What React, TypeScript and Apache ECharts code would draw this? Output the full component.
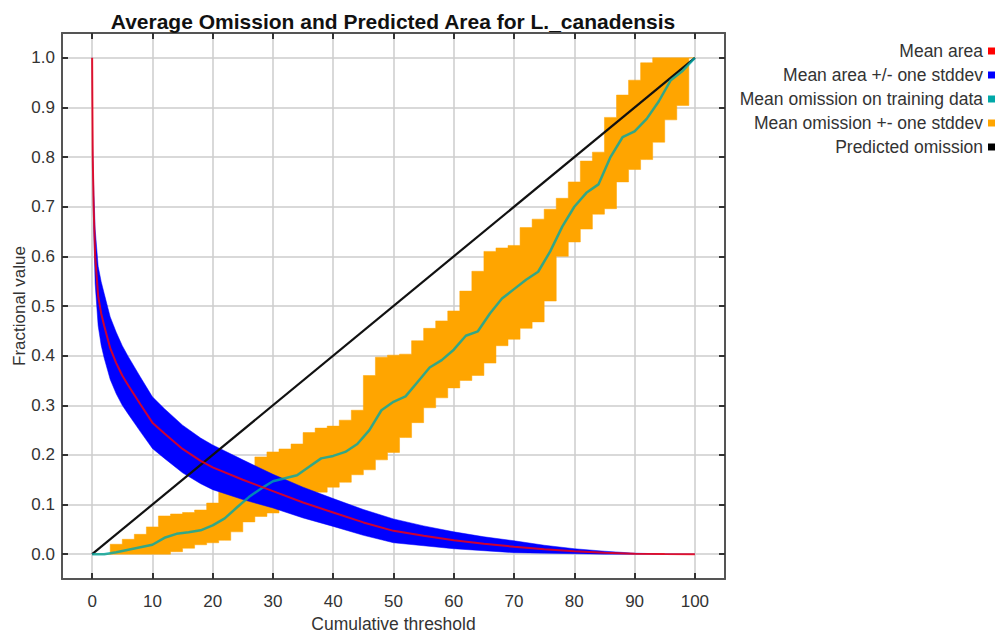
import React, { useEffect, useRef } from 'react';
import * as echarts from 'echarts';

const titleText = 'Average Omission and Predicted Area for L._canadensis';
const xName = 'Cumulative threshold';
const yName = 'Fractional value';

const xTicks = [0, 10, 20, 30, 40, 50, 60, 70, 80, 90, 100];
const yTicks = [0.0, 0.1, 0.2, 0.3, 0.4, 0.5, 0.6, 0.7, 0.8, 0.9, 1.0];

const legendNames = [
  'Mean area',
  'Mean area +/- one stddev',
  'Mean omission on training data',
  'Mean omission +- one stddev',
  'Predicted omission',
];

// Mean fractional predicted area
const areaX = [0, 0.1, 0.25, 0.5, 1, 1.5, 2, 3, 4, 5, 6, 8, 10, 12, 15, 18, 20, 25, 30, 35, 40, 45, 50, 55, 60, 65, 70, 75, 80, 85, 90, 95, 100];
const areaMean = [1.0, 0.8, 0.7, 0.6, 0.52, 0.485, 0.46, 0.415, 0.385, 0.36, 0.34, 0.302, 0.265, 0.243, 0.212, 0.188, 0.175, 0.15, 0.127, 0.104, 0.084, 0.064, 0.047, 0.037, 0.028, 0.021, 0.015, 0.01, 0.006, 0.003, 0.001, 0.0003, 0];
const areaStd = [0, 0.025, 0.045, 0.055, 0.06, 0.064, 0.065, 0.063, 0.062, 0.06, 0.058, 0.055, 0.052, 0.05, 0.048, 0.046, 0.045, 0.04, 0.034, 0.031, 0.028, 0.026, 0.024, 0.02, 0.017, 0.014, 0.012, 0.008, 0.005, 0.003, 0.001, 0.0003, 0];

// Omission on training data
const omX = [0, 2, 4, 6, 8, 10, 12, 14, 16, 18, 20, 22, 24, 26, 28, 30, 32, 34, 36, 38, 40, 42, 44, 46, 48, 50, 52, 54, 56, 58, 60, 62, 64, 66, 68, 70, 72, 74, 76, 78, 80, 82, 84, 86, 88, 90, 92, 94, 96, 98, 100];
const omMean = [0, 0, 0.004, 0.009, 0.014, 0.019, 0.033, 0.041, 0.044, 0.048, 0.058, 0.072, 0.094, 0.115, 0.132, 0.147, 0.153, 0.159, 0.176, 0.193, 0.198, 0.206, 0.222, 0.25, 0.29, 0.307, 0.318, 0.347, 0.376, 0.391, 0.412, 0.44, 0.449, 0.485, 0.515, 0.534, 0.553, 0.569, 0.61, 0.66, 0.7, 0.728, 0.745, 0.8, 0.84, 0.852, 0.877, 0.912, 0.955, 0.974, 1.0];
const omUpper = [0, 0, 0.02, 0.03, 0.04, 0.055, 0.077, 0.081, 0.084, 0.089, 0.103, 0.14, 0.158, 0.178, 0.196, 0.206, 0.212, 0.222, 0.245, 0.254, 0.258, 0.27, 0.29, 0.36, 0.397, 0.401, 0.403, 0.43, 0.455, 0.47, 0.49, 0.53, 0.57, 0.61, 0.617, 0.622, 0.658, 0.675, 0.695, 0.717, 0.75, 0.792, 0.81, 0.88, 0.925, 0.955, 0.99, 1.0, 1.0, 1.0, 1.0];
const omLower = [0, 0, 0, 0, 0, 0, 0, 0.005, 0.012, 0.019, 0.023, 0.028, 0.045, 0.065, 0.076, 0.083, 0.09, 0.1, 0.11, 0.125, 0.135, 0.145, 0.16, 0.17, 0.19, 0.205, 0.235, 0.265, 0.295, 0.315, 0.335, 0.35, 0.36, 0.385, 0.42, 0.433, 0.455, 0.468, 0.51, 0.6, 0.629, 0.655, 0.685, 0.696, 0.75, 0.775, 0.795, 0.83, 0.875, 0.904, 1.0];

const predX = [0, 100];
const predY = [0, 1];

const FONT = '"Liberation Sans", Arial, sans-serif';
const TXT = '#333333';

// Band polygon (upper edge forward, lower edge backward) in data space,
// optionally with "middle" steps, mapped through the axes with api.coord.
function bandRenderer(xs: number[], lows: number[], highs: number[], fill: string, stepped: boolean) {
  return (params: any, api: any) => {
    if (params.dataIndex !== 0) return null;
    const edge = (ys: number[]) => {
      const pts: number[][] = [];
      for (let i = 0; i < xs.length; i++) {
        if (stepped && i > 0) {
          const mid = (xs[i - 1] + xs[i]) / 2;
          pts.push([mid, ys[i - 1]]);
          pts.push([mid, ys[i]]);
        }
        pts.push([xs[i], ys[i]]);
      }
      return pts;
    };
    const top = edge(highs);
    const bottom = edge(lows).reverse();
    const points = top.concat(bottom).map((p) => api.coord(p));
    return {
      type: 'polygon',
      shape: { points },
      style: { fill, stroke: fill, lineWidth: 0.5 },
      silent: true,
    };
  };
}

function buildOption() {
  const areaLow = areaMean.map((m, i) => Math.max(0, m - areaStd[i]));
  const areaHigh = areaMean.map((m, i) => Math.min(1, m + areaStd[i]));
  const pair = (xs: number[], ys: number[]) => xs.map((x, i) => [x, ys[i]]);

  const axisLine = { show: true, onZero: false, lineStyle: { color: '#555555', width: 2 } };
  const tickIn = { show: true, inside: true, length: 6, lineStyle: { color: '#333333', width: 2 } };

  return {
    animation: false,
    backgroundColor: '#ffffff',
    title: {
      text: titleText,
      left: 388,
      top: 6,
      textAlign: 'center',
      textStyle: { fontFamily: FONT, fontWeight: 'bold', fontSize: 21, color: '#111111' },
    },
    legend: {
      orient: 'vertical',
      right: 6,
      top: 37,
      align: 'right',
      icon: 'rect',
      itemWidth: 7,
      itemHeight: 7,
      itemGap: 6,
      selectedMode: false,
      textStyle: { fontFamily: FONT, fontSize: 17.5, color: TXT },
      data: [
        { name: legendNames[0], itemStyle: { color: '#ff0000' } },
        { name: legendNames[1], itemStyle: { color: '#0000ff' } },
        { name: legendNames[2], itemStyle: { color: '#00a8a8' } },
        { name: legendNames[3], itemStyle: { color: '#ffa500' } },
        { name: legendNames[4], itemStyle: { color: '#000000' } },
      ],
    },
    grid: { left: 62, right: 281, top: 33, bottom: 56, containLabel: false, outerBoundsMode: 'none' },
    xAxis: [
      {
        type: 'value', min: -5, max: 105, position: 'bottom',
        axisLine, axisTick: { ...tickIn, customValues: xTicks },
        axisLabel: { customValues: xTicks, fontFamily: FONT, fontSize: 17, color: TXT, margin: 14, formatter: (v: number) => String(Math.round(v)) },
        splitLine: { show: true, lineStyle: { color: '#cccccc', width: 1.5 } },
        name: xName, nameLocation: 'middle', nameGap: 34,
        nameTextStyle: { fontFamily: FONT, fontSize: 17.5, color: TXT },
      },
      {
        type: 'value', min: -5, max: 105, position: 'top',
        axisLine, axisTick: { ...tickIn, customValues: xTicks },
        axisLabel: { show: false }, splitLine: { show: false },
      },
    ],
    yAxis: [
      {
        type: 'value', min: -0.05, max: 1.05, position: 'left',
        axisLine, axisTick: { ...tickIn, customValues: yTicks },
        axisLabel: { customValues: yTicks, fontFamily: FONT, fontSize: 17, color: TXT, margin: 7, formatter: (v: number) => v.toFixed(1) },
        splitLine: { show: true, lineStyle: { color: '#cccccc', width: 1.5 } },
        name: yName, nameLocation: 'middle', nameGap: 34, nameMoveOverlap: false,
        nameTextStyle: { fontFamily: FONT, fontSize: 17, color: TXT },
      },
      {
        type: 'value', min: -0.05, max: 1.05, position: 'right',
        axisLine, axisTick: { ...tickIn, customValues: yTicks },
        axisLabel: { show: false }, splitLine: { show: false },
      },
    ],
    series: [
      {
        name: legendNames[4], type: 'line', data: pair(predX, predY), symbol: 'none',
        color: '#000000', lineStyle: { color: '#111111', width: 2.2 }, silent: true,
      },
      {
        name: legendNames[3], type: 'custom', color: '#ffa500', itemStyle: { color: '#ffa500' },
        data: pair(omX, omMean), clip: true, silent: true,
        renderItem: bandRenderer(omX, omLower, omUpper, '#ffa500', true),
      },
      {
        name: legendNames[2], type: 'line', data: pair(omX, omMean), symbol: 'none', color: '#00a8a8',
        lineStyle: { color: '#00a8a8', width: 2.5, opacity: 0.8 }, silent: true,
      },
      {
        name: legendNames[1], type: 'custom', color: '#0000ff', itemStyle: { color: '#0000ff' },
        data: pair(areaX, areaMean), clip: true, silent: true,
        renderItem: bandRenderer(areaX, areaLow, areaHigh, '#0000ff', false),
      },
      {
        name: legendNames[0], type: 'line', data: pair(areaX, areaMean), symbol: 'none', color: '#ff0000',
        lineStyle: { color: '#ff0000', width: 2, opacity: 0.8 }, silent: true,
      },
    ],
  };
}

export default function App() {
  const ref = useRef<HTMLDivElement>(null);
  useEffect(() => {
    document.body.style.margin = '0';
    const chart = echarts.init(ref.current as HTMLDivElement, null, { renderer: 'svg' });
    chart.setOption(buildOption() as any);
    return () => chart.dispose();
  }, []);
  return <div ref={ref} style={{ width: 1006, height: 635 }} />;
}
